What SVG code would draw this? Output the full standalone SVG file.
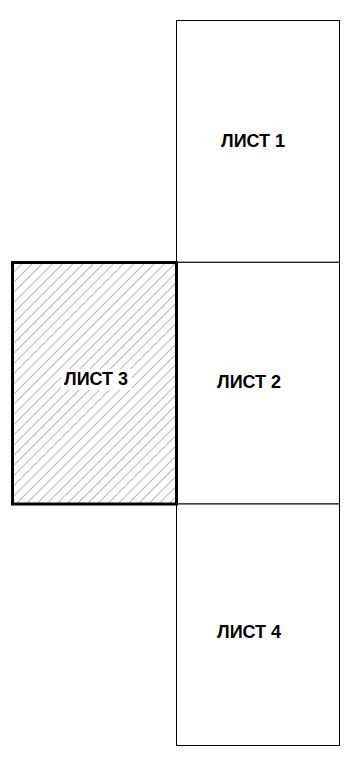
<svg xmlns="http://www.w3.org/2000/svg" width="360" height="764" viewBox="0 0 360 764">
<defs>
<pattern id="hatch" patternUnits="userSpaceOnUse" width="7.2" height="10" patternTransform="rotate(45)">
<line x1="0" y1="0" x2="0" y2="10" stroke="#6e6e6e" stroke-width="1"/>
</pattern>
<style>
.sheet{fill:#fff;stroke:#000;stroke-width:1}
.lbl{font-family:"Liberation Sans",Arial,sans-serif;font-weight:bold;font-size:18px;fill:#000}
</style>
</defs>
<rect width="360" height="764" fill="#fff"/>
<g id="sheet1"><rect class="sheet" x="176.5" y="20.5" width="163" height="241.8"/><text class="lbl" x="221" y="147">ЛИСТ 1</text></g>
<g id="sheet2"><rect class="sheet" x="176.5" y="262.3" width="163" height="241.7"/><text class="lbl" x="217" y="388">ЛИСТ 2</text></g>
<g id="sheet4"><rect class="sheet" x="176.5" y="504" width="163" height="241.5"/><text class="lbl" x="217" y="638">ЛИСТ 4</text></g>
<g id="sheet3">
<rect x="12.5" y="262.5" width="164" height="241.5" fill="url(#hatch)"/>
<rect x="61" y="369" width="71" height="21" fill="#fff"/>
<rect x="12.5" y="262.5" width="164" height="241.5" fill="none" stroke="#000" stroke-width="3"/>
<text class="lbl" x="64" y="385">ЛИСТ 3</text>
</g>
<g id="connectors"/>
</svg>
